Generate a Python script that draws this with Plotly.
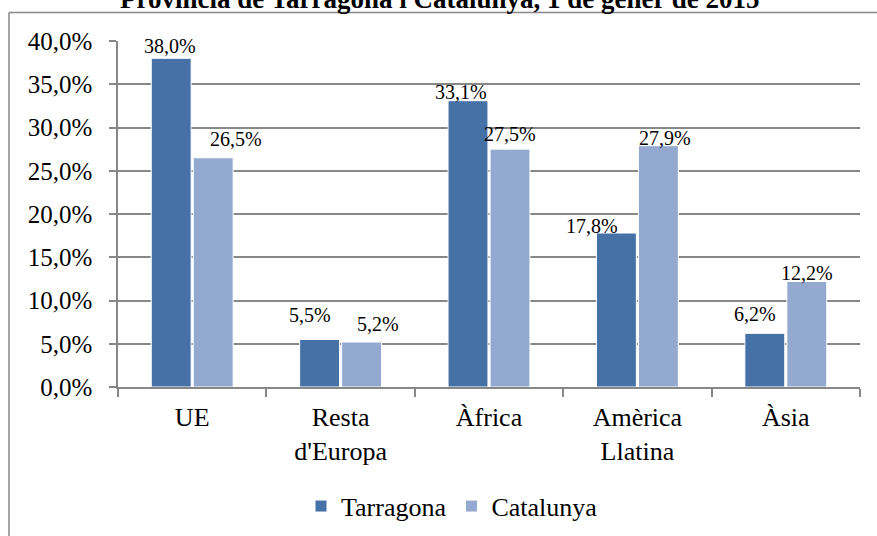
import plotly.graph_objects as go

# ---------------- data ----------------
categories = ["UE", "Resta<br>d'Europa", "Àfrica", "Amèrica<br>Llatina", "Àsia"]
tarragona = [38.0, 5.5, 33.1, 17.8, 6.2]
catalunya = [26.5, 5.2, 27.5, 27.9, 12.2]
series_names = ["Tarragona", "Catalunya"]
y_tick_values = [0, 5, 10, 15, 20, 25, 30, 35, 40]
y_tick_labels = ["0,0%", "5,0%", "10,0%", "15,0%", "20,0%", "25,0%", "30,0%", "35,0%", "40,0%"]
title_text = "Província de Tarragona i Catalunya, 1 de gener de 2015"

# ---------------- style ----------------
W, H = 877, 536
ML, MR, MT, MB = 118, 17, 40.5, 148.5
colors = ["#4571A6", "#93A9CF"]
grid_col = "#878787"
font_family = "Liberation Serif"

# label nudges in pixels (horizontal offset from bar centre, gap above bar top)
tarr_dx = [-1, -10, -7, -24, -10]
tarr_dy = [5, 17, 2, 0, 12]
cat_dx = [23, 16, 0, 7, 0]
cat_dy = [12, 11, 8, 1, 1]
bar_half_offset = 21

pw = W - ML - MR
ph = H - MT - MB


def px_x(p):
    return (p - ML) / pw


def px_y(p):
    return (H - MB - p) / ph


fig = go.Figure()
for name, vals, col in zip(series_names, [tarragona, catalunya], colors):
    fig.add_trace(go.Bar(
        name=name, x=categories, y=vals,
        marker=dict(color=col, line=dict(color="white", width=1)),
        hoverinfo="skip",
    ))

annotations = []
for vals, dxs, dys, side in [(tarragona, tarr_dx, tarr_dy, -1), (catalunya, cat_dx, cat_dy, 1)]:
    for c, v, dx, dy in zip(categories, vals, dxs, dys):
        annotations.append(dict(
            x=c, y=v, xref="x", yref="y",
            text=f"{v:.1f}%".replace(".", ","),
            showarrow=False, xanchor="center", yanchor="bottom",
            xshift=side * bar_half_offset + dx, yshift=dy - 6,
            font=dict(family=font_family, size=20, color="black"),
        ))

annotations.append(dict(
    x=px_x(440), y=px_y(15), xref="paper", yref="paper",
    text=f"<b>{title_text}</b>", showarrow=False,
    xanchor="center", yanchor="bottom",
    font=dict(family=font_family, size=27, color="black"),
))

shapes = [
    dict(type="line", xref="paper", yref="paper",
         x0=px_x(9), x1=px_x(W + 5), y0=px_y(12), y1=px_y(12),
         line=dict(color=grid_col, width=1.5)),
    dict(type="line", xref="paper", yref="paper",
         x0=px_x(9), x1=px_x(9), y0=px_y(12), y1=px_y(H + 5),
         line=dict(color=grid_col, width=1.5)),
]

fig.update_layout(
    template="none",
    width=W, height=H,
    margin=dict(l=ML, r=MR, t=MT, b=MB, pad=0, autoexpand=False),
    paper_bgcolor="white", plot_bgcolor="white",
    barmode="group", bargap=0.434, bargroupgap=0.05,
    font=dict(family=font_family, color="black"),
    showlegend=True,
    legend=dict(orientation="h", x=px_x(452), xanchor="center",
                y=px_y(507), yanchor="middle",
                font=dict(family=font_family, size=26, color="black"),
                itemwidth=30, bgcolor="rgba(0,0,0,0)"),
    annotations=annotations,
    shapes=shapes,
)

fig.update_xaxes(
    type="category", automargin=False, showline=True, linecolor=grid_col, linewidth=1.5,
    ticks="outside", tickson="boundaries", ticklen=8, tickcolor=grid_col, tickwidth=1.5,
    tickfont=dict(family=font_family, size=26, color="black"),
    ticklabelstandoff=6,
    showgrid=False, zeroline=False,
)
fig.update_yaxes(
    range=[0, 40], tickmode="array", tickvals=y_tick_values, ticktext=y_tick_labels,
    automargin=False, showline=True, linecolor=grid_col, linewidth=1.5,
    ticks="outside", ticklen=7, tickcolor=grid_col, tickwidth=1.5,
    showgrid=True, gridcolor=grid_col, gridwidth=1.5, zeroline=False,
    tickfont=dict(family=font_family, size=25, color="black"),
    ticklabelstandoff=12,
)

fig.write_html("out.html", config={"displayModeBar": False},
               post_script="document.body.style.margin='0';")
